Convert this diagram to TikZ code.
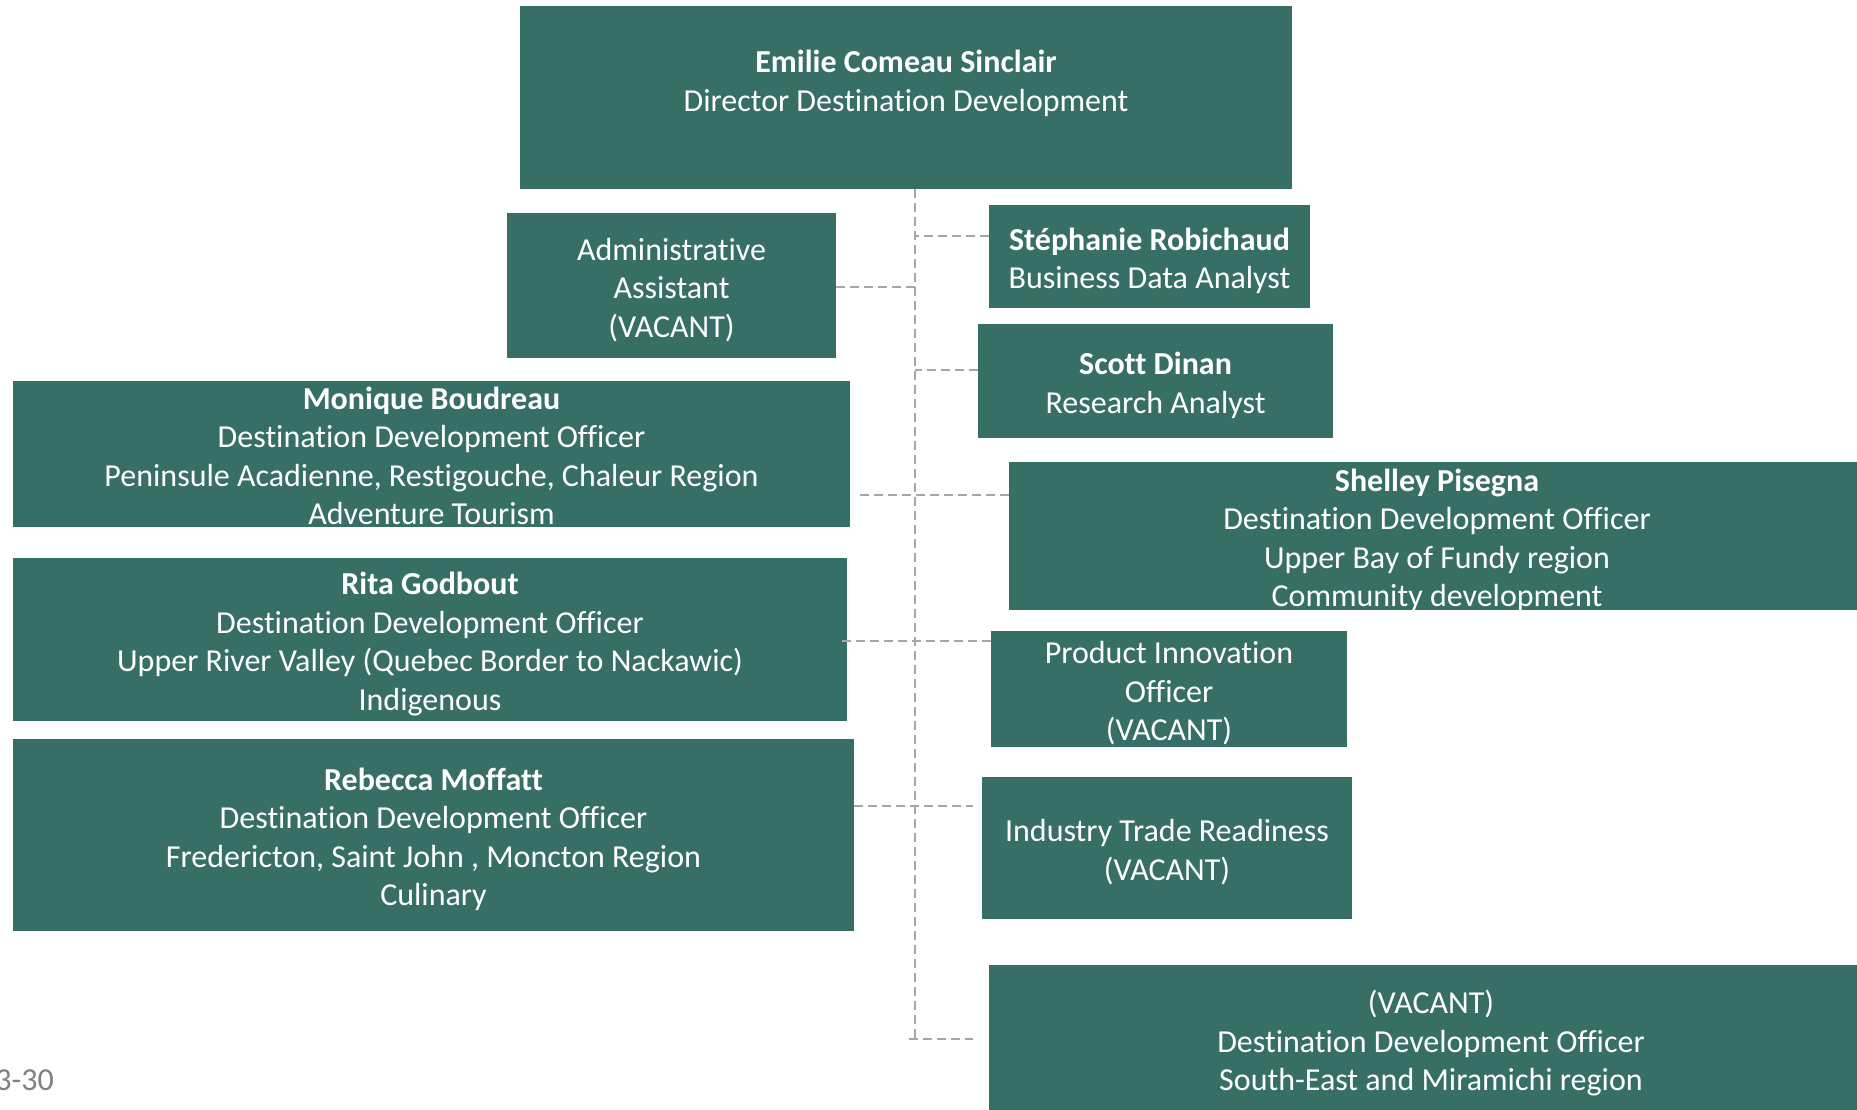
\documentclass[tikz,border=0pt]{standalone}
\usepackage{fontspec}
\setmainfont{Carlito}[Ligatures={TeX,NoCommon}]
\usetikzlibrary{calc}
\definecolor{teal1}{HTML}{376F66}
\definecolor{lineg}{HTML}{A6A6A6}
\definecolor{dategray}{HTML}{808080}
\newcommand{\myst}{\rule{0pt}{35pt}}
\newcommand{\mysb}{\rule[-9pt]{0pt}{9pt}}
\begin{document}
\begin{tikzpicture}[x=1pt,y=-1pt,
  txt/.style={text=white,inner sep=0pt,align=center,
    font=\fontsize{32}{38.5}\selectfont},
  box/.style={txt,rectangle,fill=teal1,inner ysep=-14pt},
  conn/.style={draw=lineg,line width=2pt,dash pattern=on 9pt off 5pt}]
\useasboundingbox (0,0) rectangle (1857,1110);
% boxes
\node[rectangle,fill=teal1,inner sep=0pt,minimum width=772pt,minimum height=183pt] (boss) at (906,97.5) {};
\node[txt] (bosstext) at (906,79) {\myst\textbf{Emilie Comeau Sinclair}\\Director Destination Development\mysb};
\node[box,minimum width=329pt,minimum height=145pt] (admin) at (671.5,285.5) {\myst Administrative\\Assistant\\(VACANT)\mysb};
\node[box,minimum width=321pt,minimum height=103pt] (steph) at (1149.5,256.5) {\myst\textbf{Stéphanie Robichaud}\\Business Data Analyst\mysb};
\node[box,minimum width=355pt,minimum height=114pt] (scott) at (1155.5,381) {\myst\textbf{Scott Dinan}\\Research Analyst\mysb};
\node[box,minimum width=837pt,minimum height=146pt] (monique) at (431.5,454) {\myst\textbf{Monique Boudreau}\\Destination Development Officer\\Peninsule Acadienne, Restigouche, Chaleur Region\\Adventure Tourism\mysb};
\node[box,minimum width=834pt,minimum height=163pt] (rita) at (430,639.5) {\myst\textbf{Rita Godbout}\\Destination Development Officer\\Upper River Valley (Quebec Border to Nackawic)\\Indigenous\mysb};
\node[box,minimum width=841pt,minimum height=192pt] (rebecca) at (433.5,835) {\myst\textbf{Rebecca Moffatt}\\Destination Development Officer\\Fredericton, Saint John , Moncton Region\\Culinary\mysb};
\node[box,minimum width=856pt,minimum height=148pt] (shelley) at (1437,536) {\myst\textbf{Shelley Pisegna}\\Destination Development Officer\\Upper Bay of Fundy region\\Community development\mysb};
\node[box,minimum width=356pt,minimum height=116pt] (product) at (1169,689) {\myst Product Innovation\\Officer\\(VACANT)\mysb};
\node[box,minimum width=370pt,minimum height=142pt] (industry) at (1167,848) {\myst Industry Trade Readiness\\(VACANT)\mysb};
\node[box,minimum width=884pt,minimum height=148pt] (vacant) at (1431,1039) {\myst(VACANT)\\Destination Development Officer\\South-East and Miramichi region\mysb};
\node[anchor=base east,inner sep=0pt,text=dategray,font=\fontsize{32}{38}\selectfont] (date) at (54,1090) {3-30};
% spine
\coordinate (spT) at ([xshift=9pt]boss.south);
\coordinate (spB) at (915,1039);
\draw[conn] (spT) -- (spB);
\draw[conn] ($(spB)+(-6,0)$) -- ($(vacant.west)+(-16,0)$);
% branches
\draw[conn] ([yshift=20.5pt]steph.west) coordinate (c1) -- (spT |- c1);
\draw[conn] ([yshift=-1.5pt]admin.east) coordinate (c2) -- (spT |- c2);
\draw[conn] ([yshift=11pt]scott.west) coordinate (c3) -- (spT |- c3);
\draw[conn] ([yshift=41pt]shelley.west) coordinate (c4) -- ($(monique.east |- c4)+(6,0)$);
\draw[conn] ([yshift=48pt]product.west) coordinate (c5) -- ($(rita.east |- c5)+(-5,0)$);
\draw[conn] ([yshift=29pt]rebecca.east) coordinate (c6) -- ($(c6 -| industry.west)+(-9,0)$);
\end{tikzpicture}
\end{document}
